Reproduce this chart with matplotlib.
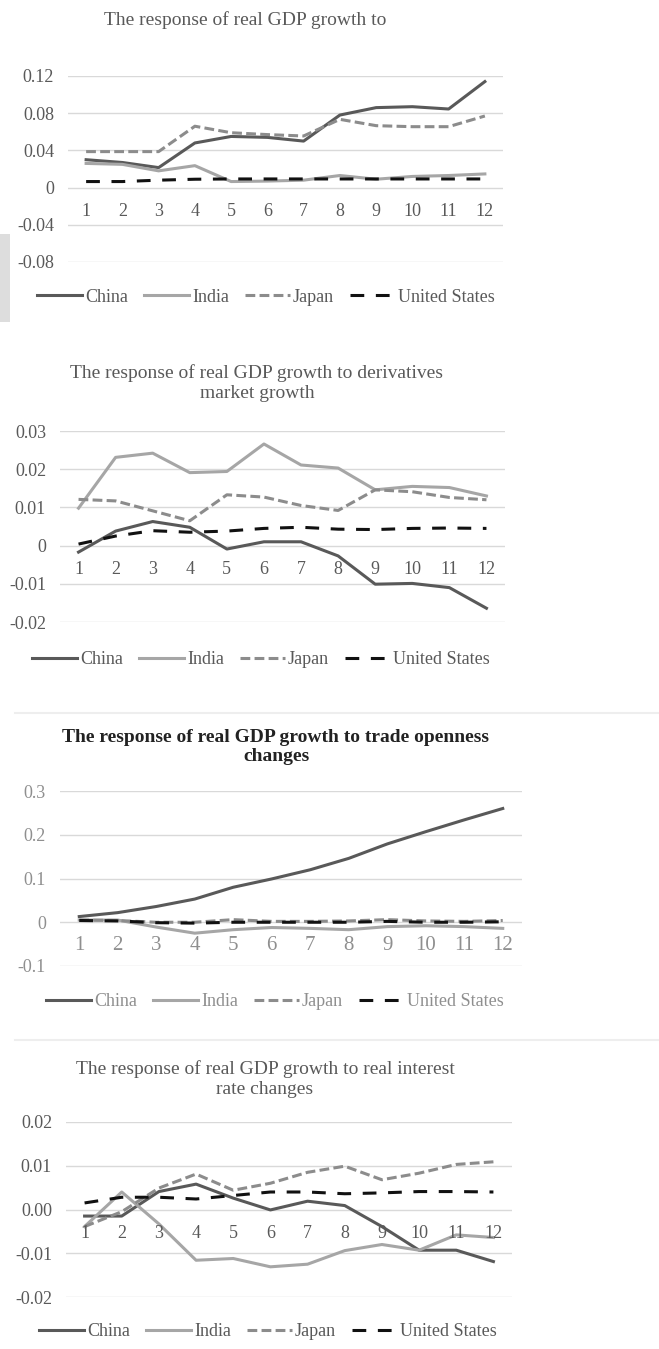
import matplotlib
matplotlib.use("Agg")
import matplotlib.pyplot as plt

# -------------------------
# Data
# -------------------------
periods = ["1", "2", "3", "4", "5", "6", "7", "8", "9", "10", "11", "12"]
countries = ["China", "India", "Japan", "United States"]

# panel 1: response of real GDP growth to ...
p1_china = [0.030, 0.027, 0.0215, 0.048, 0.055, 0.054, 0.050, 0.078, 0.086, 0.087, 0.0845, 0.114]
p1_india = [0.026, 0.025, 0.018, 0.0236, 0.0065, 0.007, 0.008, 0.013, 0.009, 0.012, 0.013, 0.0147]
p1_japan = [0.0387, 0.0387, 0.0387, 0.066, 0.059, 0.057, 0.0555, 0.0734, 0.0666, 0.0655, 0.0655, 0.077]
p1_us = [0.0065, 0.0065, 0.008, 0.009, 0.0093, 0.0093, 0.0093, 0.0093, 0.0093, 0.0093, 0.0093, 0.0093]

# panel 2: derivatives market growth
p2_china = [-0.0017, 0.0038, 0.0063, 0.0048, -0.0009, 0.001, 0.001, -0.0027, -0.0101, -0.0099, -0.011, -0.0164]
p2_india = [0.0098, 0.0231, 0.0242, 0.0191, 0.0194, 0.0266, 0.0211, 0.0203, 0.0146, 0.0155, 0.0152, 0.013]
p2_japan = [0.0121, 0.0117, 0.0091, 0.0065, 0.0133, 0.0127, 0.0105, 0.0092, 0.0146, 0.0141, 0.0126, 0.012]
p2_us = [0.0004, 0.0025, 0.0039, 0.0035, 0.0038, 0.0045, 0.0048, 0.0043, 0.0042, 0.0045, 0.0046, 0.0045]

# panel 3: trade openness changes
p3_china = [0.013, 0.022, 0.036, 0.053, 0.080, 0.099, 0.120, 0.146, 0.179, 0.207, 0.234, 0.260]
p3_india = [0.005, 0.005, -0.011, -0.025, -0.017, -0.012, -0.014, -0.017, -0.010, -0.008, -0.010, -0.014]
p3_japan = [0.005, 0.004, 0.0, 0.0, 0.006, 0.002, 0.002, 0.003, 0.006, 0.003, 0.002, 0.004]
p3_us = [0.004, 0.003, -0.001, -0.002, 0.0, 0.0, 0.0, 0.0, 0.002, 0.0, 0.0, 0.001]

# panel 4: real interest rate changes
p4_china = [-0.0015, -0.0015, 0.0041, 0.0058, 0.0026, -0.0001, 0.0019, 0.0009, -0.0039, -0.0093, -0.0093, -0.0119]
p4_india = [-0.0039, 0.004, -0.0033, -0.0116, -0.0112, -0.0131, -0.0125, -0.0094, -0.008, -0.0093, -0.0058, -0.0064]
p4_japan = [-0.0039, -0.0005, 0.0049, 0.0081, 0.0044, 0.006, 0.0085, 0.0099, 0.0068, 0.0083, 0.0103, 0.0109]
p4_us = [0.0015, 0.0028, 0.0028, 0.0024, 0.0032, 0.004, 0.004, 0.0036, 0.0038, 0.0041, 0.0041, 0.004]

titles = [
    "The response of real GDP growth to",
    "The response of real GDP growth to derivatives\nmarket growth",
    "The response of real GDP growth to trade openness\nchanges",
    "The response of real GDP growth to real interest\nrate changes",
]
yticks_list = [
    [-0.08, -0.04, 0, 0.04, 0.08, 0.12],
    [-0.02, -0.01, 0, 0.01, 0.02, 0.03],
    [-0.1, 0, 0.1, 0.2, 0.3],
    [-0.02, -0.01, 0.0, 0.01, 0.02],
]
ylabels_list = [
    ["-0.08", "-0.04", "0", "0.04", "0.08", "0.12"],
    ["-0.02", "-0.01", "0", "0.01", "0.02", "0.03"],
    ["-0.1", "0", "0.1", "0.2", "0.3"],
    ["-0.02", "-0.01", "0.00", "0.01", "0.02"],
]
series = [
    [p1_china, p1_india, p1_japan, p1_us],
    [p2_china, p2_india, p2_japan, p2_us],
    [p3_china, p3_india, p3_japan, p3_us],
    [p4_china, p4_india, p4_japan, p4_us],
]

# -------------------------
# Layout in pixels:
# (left, right, top gridline y, bottom gridline y, title y, title x, legend y, legend x)
# -------------------------
W, H = 659, 1349
layout = [
    (68, 503, 76, 262, 20, 245, 297, 266),
    (60, 505, 431, 622, 383, 257, 660, 261),
    (60, 522, 791, 966, 747, 276, 1002, 275),
    (66, 512, 1122, 1297, 1079, 265, 1332, 268),
]

colors = ["#595959", "#a6a6a6", "#8c8c8c", "#111111"]
styles = ["-", "-", (0, (3.2, 1.4)), (0, (4.5, 3.8))]
serif = ["Liberation Serif", "DejaVu Serif"]

fig = plt.figure(figsize=(W / 100, H / 100), dpi=100)
fig.patch.set_facecolor("white")

# faint grey block at the left edge (scan artefact in the original)
fig.add_artist(plt.Rectangle((0, 1 - 322 / H), 10 / W, 88 / H, color="#dddddd", lw=0))

for k in range(4):
    left, right, top, bottom, ty, tx, ly, lx = layout[k]
    ax = fig.add_axes([left / W, 1 - bottom / H, (right - left) / W, (bottom - top) / H])
    yt = yticks_list[k]
    ax.set_ylim(yt[0], yt[-1])
    ax.set_xlim(0, 12)
    xs = [i + 0.5 for i in range(12)]

    txt_col = "#8f8f8f" if k == 2 else "#595959"
    xsize = 15 if k == 2 else 13

    handles = []
    for j in range(4):
        ln, = ax.plot(xs, series[k][j], color=colors[j], lw=2.2, linestyle=styles[j],
                      label=countries[j])
        handles.append(ln)

    ax.set_yticks(yt)
    ax.set_yticklabels(ylabels_list[k], family=serif, fontsize=13, color=txt_col)
    ax.tick_params(axis="y", length=0, pad=10)
    ax.set_xticks([])
    ax.grid(axis="y", color="#d9d9d9", lw=1)
    ax.set_axisbelow(True)
    for s in ax.spines.values():
        s.set_visible(False)

    # category labels hang under the zero line
    for i, lab in enumerate(periods):
        ax.annotate(lab, (xs[i], 0), xytext=(0, -17), textcoords="offset points",
                    ha="center", va="center", family=serif, fontsize=xsize, color=txt_col)

    if k == 2:
        fig.text(tx / W, 1 - ty / H, titles[k], ha="center", va="center", family=serif,
                 fontsize=14, fontweight="bold", color="#222222", linespacing=1.1)
    else:
        fig.text(tx / W, 1 - ty / H, titles[k], ha="center", va="center", family=serif,
                 fontsize=14, color="#595959", linespacing=1.25)

    leg = ax.legend(handles=handles, loc="center", bbox_to_anchor=(lx / W, 1 - ly / H),
                    bbox_transform=fig.transFigure, ncol=4, frameon=False,
                    prop={"family": serif, "size": 13}, handlelength=2.5,
                    handletextpad=0.15, columnspacing=0.9)
    for t in leg.get_texts():
        t.set_color(txt_col)

# light separators between the panels
fig.add_artist(plt.Line2D([15 / W, 1], [1 - 713 / H, 1 - 713 / H], color="#eeeeee", lw=1.5))
fig.add_artist(plt.Line2D([15 / W, 1], [1 - 1040 / H, 1 - 1040 / H], color="#eeeeee", lw=1.5))

plt.savefig("out.png", dpi=100)
